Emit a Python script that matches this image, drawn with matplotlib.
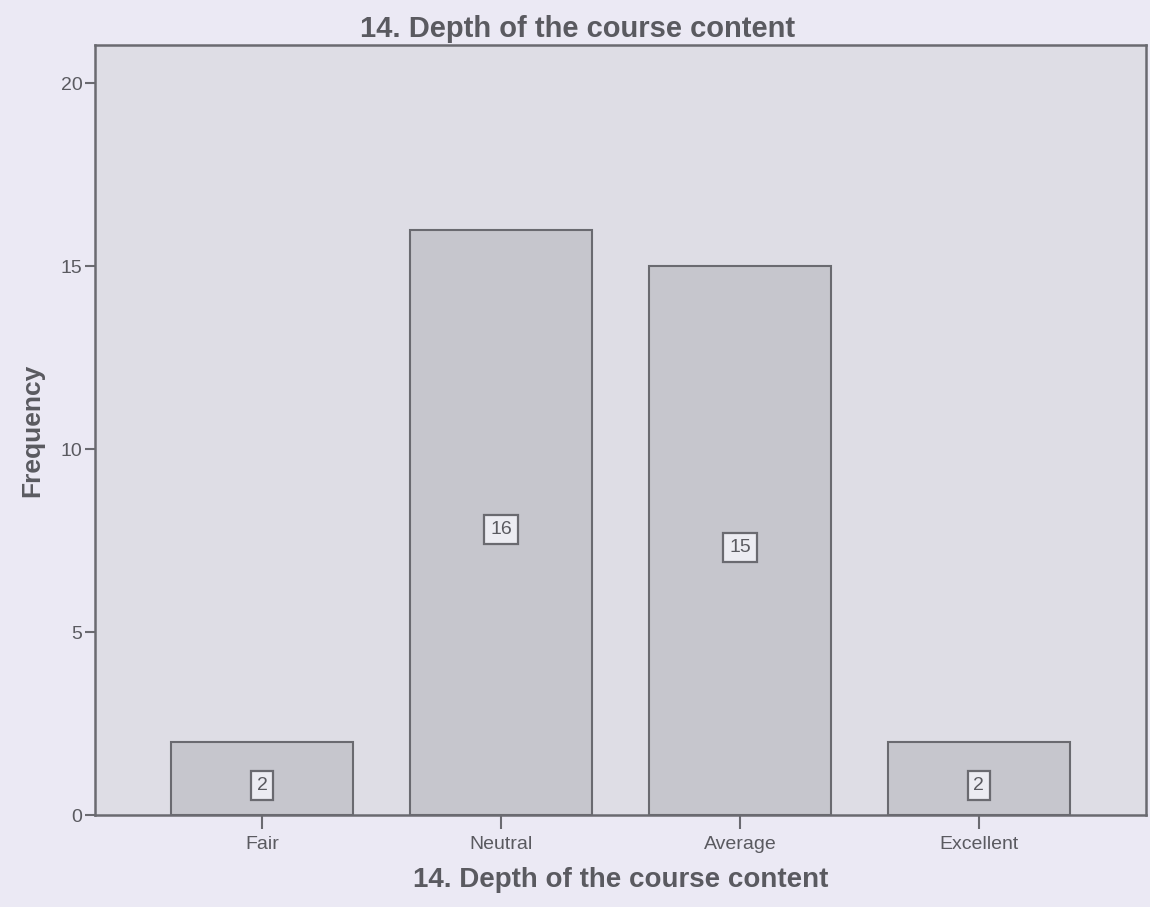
import matplotlib
matplotlib.use("Agg")
import matplotlib.pyplot as plt
from matplotlib.transforms import offset_copy

categories = ["Fair", "Neutral", "Average", "Excellent"]
frequencies = [2, 16, 15, 2]
y_ticks = [0, 5, 10, 15, 20]
title = "14. Depth of the course content"

plt.rcParams['font.family'] = ['Liberation Sans', 'DejaVu Sans']
text_c = "#5a5a60"
edge_c = "#6a6a70"

fig = plt.figure(figsize=(11.5, 9.07), dpi=100, facecolor="#ebe9f4")
ax = fig.add_axes([0.0826, 0.1014, 0.914, 0.849])
ax.set_facecolor("#dedde5")

x = list(range(len(categories)))
ax.bar(x, frequencies, width=0.76, color="#c6c6cd", edgecolor=edge_c, linewidth=1.5, zorder=2)

lbl_tr = offset_copy(ax.transData, fig=fig, x=0, y=-7, units="dots")
for xi, v in zip(x, frequencies):
    ax.text(xi, v / 2, str(v), ha="center", va="center", fontsize=14, color=text_c,
            transform=lbl_tr,
            bbox=dict(boxstyle="square,pad=0.3", facecolor="#ececf2", edgecolor=edge_c, linewidth=1.6),
            zorder=3)

ax.set_xlim(-0.70, 3.70)
ax.set_ylim(0, 21.05)
ax.set_xticks(x)
ax.set_xticklabels(categories)
ax.set_yticks(y_ticks)
ax.tick_params(axis="both", colors=edge_c, labelcolor=text_c, labelsize=14, width=1.5)
ax.tick_params(axis="y", length=7, pad=2)
ax.tick_params(axis="x", length=10, pad=5)
for s in ax.spines.values():
    s.set_color(edge_c)
    s.set_linewidth(1.8)

fig.text(0.502, 0.968, title, ha="center", va="center", fontsize=21, fontweight="bold", color=text_c)
ax.set_xlabel(title, fontsize=20, fontweight="bold", color=text_c, labelpad=10)
ax.set_ylabel("Frequency", fontsize=19, fontweight="bold", color=text_c, labelpad=12)

fig.savefig("out.png", dpi=100, facecolor=fig.get_facecolor())
